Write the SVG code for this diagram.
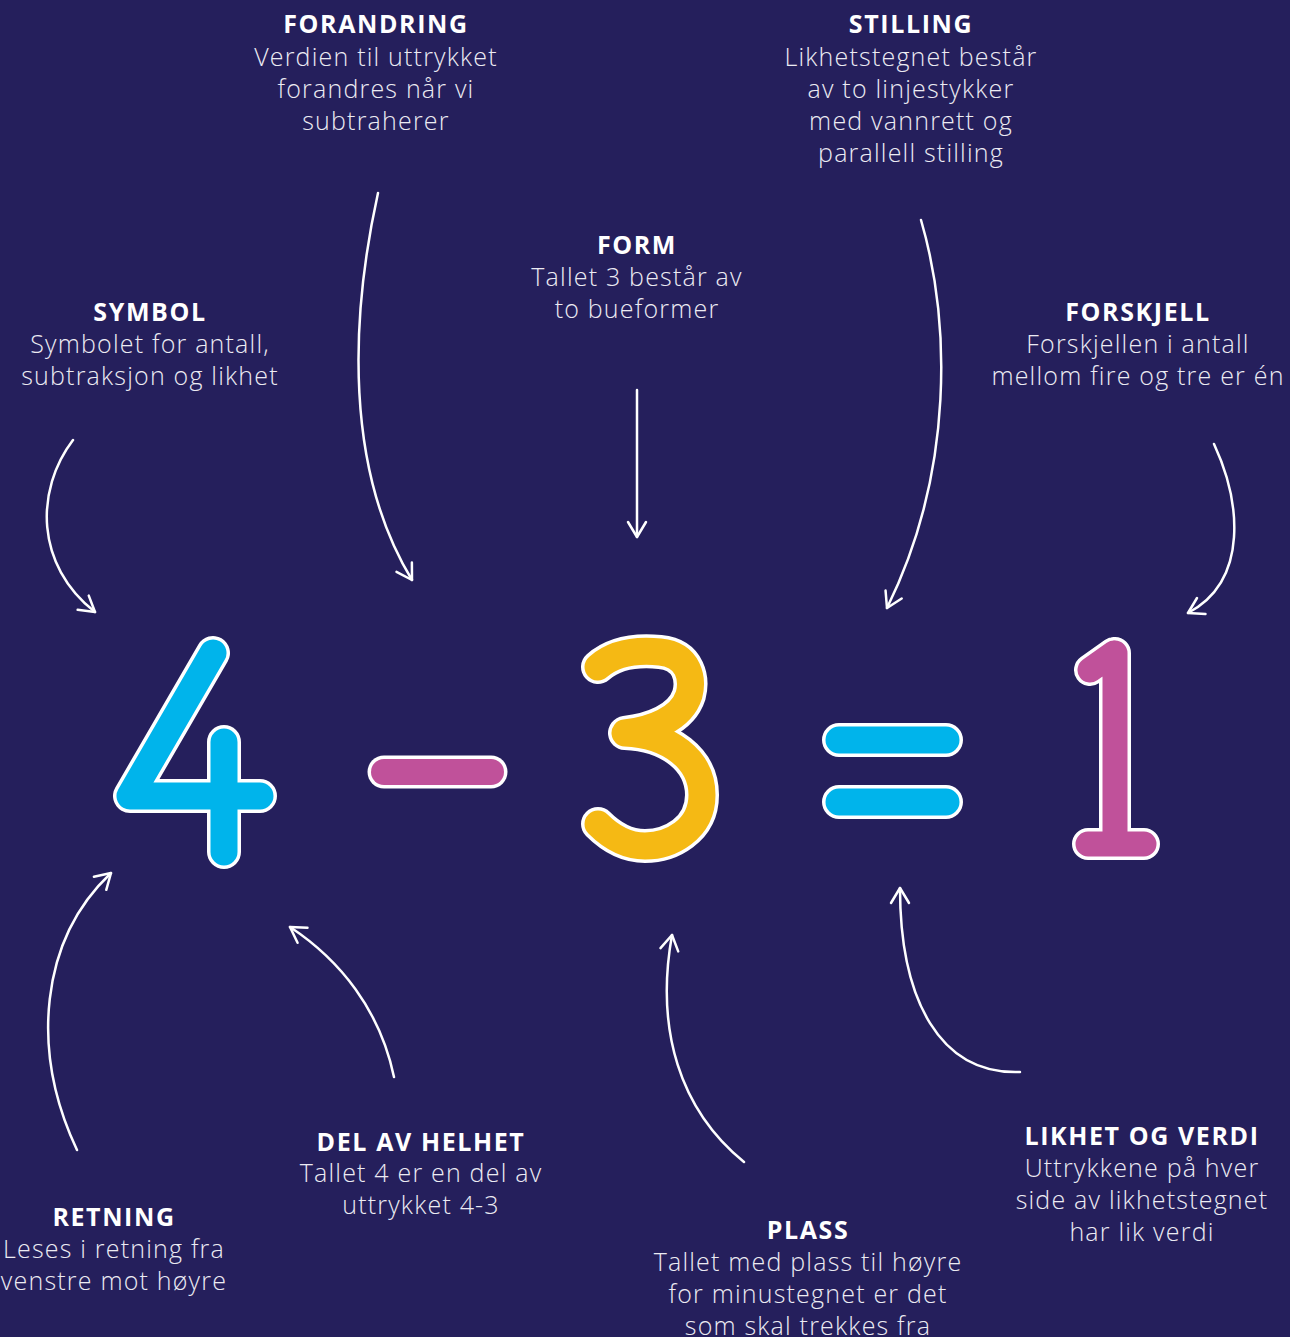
<svg xmlns="http://www.w3.org/2000/svg" width="1290" height="1337" viewBox="0 0 1290 1337">
<defs>
<style>
.t{font-family:"Open Sans","Liberation Sans",sans-serif;font-size:25px;font-weight:700;fill:#ffffff;text-anchor:middle;letter-spacing:1.6px}
.b{font-family:"Open Sans","Liberation Sans",sans-serif;font-size:25px;font-weight:300;fill:#ecebf3;text-anchor:middle;letter-spacing:1.2px}
.c{fill:none;stroke:#ffffff;stroke-width:2.5;stroke-linecap:round;marker-end:url(#ah)}
.w{fill:none;stroke:#ffffff;stroke-linecap:round;stroke-linejoin:round}
.g{fill:none;stroke-linecap:round;stroke-linejoin:round}
</style>
<marker id="ah" markerUnits="userSpaceOnUse" viewBox="-16 -12 20 24" refX="0" refY="0" markerWidth="20" markerHeight="24" orient="auto" overflow="visible">
<path d="M-15,-9 L0,0 L-15,9" fill="none" stroke="#ffffff" stroke-width="2.5" stroke-linecap="round" stroke-linejoin="round"/>
</marker>
</defs>
<rect width="1290" height="1337" fill="#251f5c"/>

<g id="digit-4">
<path class="w" stroke-width="34" d="M213,653 L130,796 L260,796 M224,742 L224,852"/>
<path class="g" stroke="#00b4eb" stroke-width="27" d="M213,653 L130,796 L260,796 M224,742 L224,852"/>
</g>
<g id="minus">
<path class="w" stroke-width="33" d="M384,772 L491,772"/>
<path class="g" stroke="#c0519a" stroke-width="26" d="M384,772 L491,772"/>
</g>
<g id="digit-3">
<path class="w" stroke-width="34" d="M598,667 C615,652 640,650 660,652 C690,655 693,680 689,695 C681,720 650,730 625,733 C670,735 702,760 702,795 C702,830 670,846 645,846 C625,846 610,836 598,824"/>
<path class="g" stroke="#f5b914" stroke-width="27" d="M598,667 C615,652 640,650 660,652 C690,655 693,680 689,695 C681,720 650,730 625,733 C670,735 702,760 702,795 C702,830 670,846 645,846 C625,846 610,836 598,824"/>
</g>
<g id="equals">
<path class="w" stroke-width="34" d="M839,740 L946,740 M839,802 L946,802"/>
<path class="g" stroke="#00b4eb" stroke-width="27" d="M839,740 L946,740 M839,802 L946,802"/>
</g>
<g id="digit-1">
<path class="w" stroke-width="32" d="M1115,653 L1115,842 M1114,653 L1090,670 M1088,844 L1144,844"/>
<path class="g" stroke="#c0519a" stroke-width="25" d="M1115,653 L1115,842 M1114,653 L1090,670 M1088,844 L1144,844"/>
</g>

<g id="forandring">
<text class="t" x="376" y="33">FORANDRING</text>
<text class="b" x="376" y="66">Verdien til uttrykket</text>
<text class="b" x="376" y="98">forandres når vi</text>
<text class="b" x="376" y="130">subtraherer</text>
</g>
<g id="stilling">
<text class="t" x="911" y="33">STILLING</text>
<text class="b" x="911" y="66">Likhetstegnet består</text>
<text class="b" x="911" y="98">av to linjestykker</text>
<text class="b" x="911" y="130">med vannrett og</text>
<text class="b" x="911" y="162">parallell stilling</text>
</g>
<g id="form">
<text class="t" x="637" y="254">FORM</text>
<text class="b" x="637" y="286">Tallet 3 består av</text>
<text class="b" x="637" y="318">to bueformer</text>
</g>
<g id="symbol">
<text class="t" x="150" y="321">SYMBOL</text>
<text class="b" x="150" y="353">Symbolet for antall,</text>
<text class="b" x="150" y="385">subtraksjon og likhet</text>
</g>
<g id="forskjell">
<text class="t" x="1138" y="321">FORSKJELL</text>
<text class="b" x="1138" y="353">Forskjellen i antall</text>
<text class="b" x="1138" y="385">mellom fire og tre er én</text>
</g>
<g id="del-av-helhet">
<text class="t" x="421" y="1151">DEL AV HELHET</text>
<text class="b" x="421" y="1182">Tallet 4 er en del av</text>
<text class="b" x="421" y="1214">uttrykket 4-3</text>
</g>
<g id="retning">
<text class="t" x="114" y="1226">RETNING</text>
<text class="b" x="114" y="1258">Leses i retning fra</text>
<text class="b" x="114" y="1290">venstre mot høyre</text>
</g>
<g id="plass">
<text class="t" x="808" y="1239">PLASS</text>
<text class="b" x="808" y="1271">Tallet med plass til høyre</text>
<text class="b" x="808" y="1303">for minustegnet er det</text>
<text class="b" x="808" y="1335">som skal trekkes fra</text>
</g>
<g id="likhet-og-verdi">
<text class="t" x="1142" y="1145">LIKHET OG VERDI</text>
<text class="b" x="1142" y="1177">Uttrykkene på hver</text>
<text class="b" x="1142" y="1209">side av likhetstegnet</text>
<text class="b" x="1142" y="1241">har lik verdi</text>
</g>

<g id="connectors">
<path class="c" d="M73,440 C35,490 35,565 95,612"/>
<path class="c" d="M378,193 C350,320 345,470 412,580"/>
<path class="c" d="M637,390 L637,537"/>
<path class="c" d="M921,220 C950,320 955,470 887,608"/>
<path class="c" d="M1214,444 C1240,500 1250,580 1188,613"/>
<path class="c" d="M77,1150 C30,1050 40,940 111,873"/>
<path class="c" d="M394,1077 C380,1010 340,960 290,927"/>
<path class="c" d="M744,1162 C680,1110 655,1030 672,935"/>
<path class="c" d="M1020,1072 C940,1075 900,1000 900,888"/>
</g>
</svg>
